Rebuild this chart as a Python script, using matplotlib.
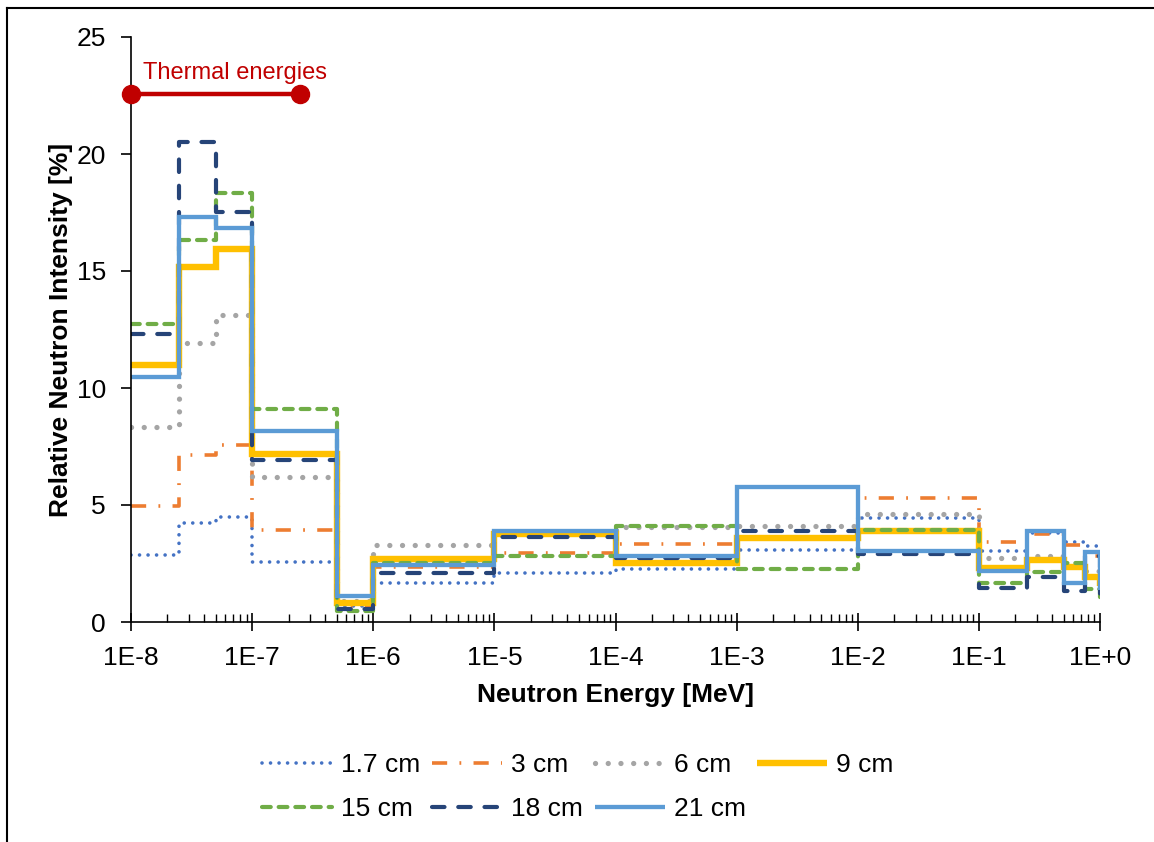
import matplotlib
matplotlib.use("Agg")
import matplotlib.pyplot as plt
from matplotlib.lines import Line2D
from matplotlib.ticker import FixedLocator, FixedFormatter, LogLocator, NullFormatter

plt.rcParams['font.family'] = ['Liberation Sans', 'DejaVu Sans']

# Energy bin edges [MeV]
edges = [1e-8, 2.5e-8, 5e-8, 1e-7, 5e-7, 1e-6, 1e-5, 1e-4, 1e-3, 1e-2,
         1e-1, 2.5e-1, 5e-1, 7.5e-1, 1.0]

# Relative intensity per bin [%]; the last entry is the value reached at 1 MeV
depth_1_7 = [2.85, 4.25, 4.5, 2.55, 0.7, 1.66, 2.1, 2.27, 3.08, 4.44, 3.05, 3.8, 3.44, 3.25, 3.2]
depth_3 = [4.95, 7.15, 7.58, 3.94, 0.66, 2.35, 2.94, 3.34, 3.6, 5.28, 3.4, 3.75, 3.27, 2.8, 2.7]
depth_6 = [8.35, 11.94, 13.14, 6.2, 0.9, 3.3, 3.8, 4.08, 4.11, 4.6, 2.75, 2.8, 2.4, 2.18, 2.2]
depth_9 = [11.0, 15.17, 15.95, 7.19, 0.83, 2.68, 3.77, 2.54, 3.58, 3.9, 2.3, 2.65, 2.37, 1.91, 1.55]
depth_15 = [12.74, 16.32, 18.35, 9.1, 0.48, 2.54, 2.82, 4.11, 2.28, 3.95, 1.66, 2.13, 2.54, 1.4, 0.87]
depth_18 = [12.3, 20.52, 17.54, 6.93, 0.56, 2.08, 3.65, 2.73, 3.9, 2.9, 1.47, 1.94, 1.34, 2.83, 1.08]
depth_21 = [10.49, 17.31, 16.85, 8.18, 1.11, 2.44, 3.9, 2.83, 5.77, 3.04, 2.2, 3.9, 1.65, 2.98, 1.35]

series_labels = ["1.7 cm", "3 cm", "6 cm", "9 cm", "15 cm", "18 cm", "21 cm"]

x_tick_values = [1e-8, 1e-7, 1e-6, 1e-5, 1e-4, 1e-3, 1e-2, 1e-1, 1e0]
x_tick_labels = ["1E-8", "1E-7", "1E-6", "1E-5", "1E-4", "1E-3", "1E-2", "1E-1", "1E+0"]
y_tick_values = [0, 5, 10, 15, 20, 25]

thermal_range = [1e-8, 2.5e-7]
thermal_level = 22.55

styles = [
    dict(color="#4472C4", lw=2.6, ls=(0, (0.01, 2.35)), dash_capstyle="round"),
    dict(color="#ED7D31", lw=2.6, ls=(0, (4.2, 3.4, 0.5, 3.4)), dash_capstyle="butt"),
    dict(color="#A5A5A5", lw=3.8, ls=(0, (0.01, 2.4)), dash_capstyle="round"),
    dict(color="#FFC000", lw=4.6, ls="-", solid_capstyle="butt"),
    dict(color="#70AD47", lw=3.0, ls=(0, (2.1, 1.9)), dash_capstyle="round"),
    dict(color="#264478", lw=3.0, ls=(0, (3.0, 3.3)), dash_capstyle="round"),
    dict(color="#5B9BD5", lw=3.1, ls="-", solid_capstyle="butt"),
]

data = [depth_1_7, depth_3, depth_6, depth_9, depth_15, depth_18, depth_21]

fig = plt.figure(figsize=(11.54, 8.42), dpi=100)
ax = fig.add_axes([131 / 1154, 1 - 622 / 842, (1100 - 131) / 1154, (622 - 37) / 842])

handles = []
for vals, lab, st in zip(data, series_labels, styles):
    st = dict(st)
    color = st.pop("color"); lw = st.pop("lw"); ls = st.pop("ls")
    line, = ax.step(edges, vals, where="post", color=color, lw=lw, linestyle=ls,
                    label=lab, solid_joinstyle="miter", **st)
    handles.append(line)

# Thermal energy range marker
ax.plot(thermal_range, [thermal_level, thermal_level], color="#C00000", lw=3.2,
        marker="o", markersize=13, clip_on=False, zorder=10)
ax.text(1.25e-8, 23.45, "Thermal energies", color="#C00000", fontsize=17,
        ha="left", va="center")

ax.set_xscale("log")
ax.set_xlim(1e-8, 1.0)
ax.set_ylim(0, 25)

ax.xaxis.set_major_locator(FixedLocator(x_tick_values))
ax.xaxis.set_major_formatter(FixedFormatter(x_tick_labels))
ax.xaxis.set_minor_locator(LogLocator(base=10, subs=range(2, 10), numticks=20))
ax.xaxis.set_minor_formatter(NullFormatter())
ax.yaxis.set_major_locator(FixedLocator(y_tick_values))

ax.tick_params(axis="x", which="major", direction="inout", length=13, width=1.2,
               labelsize=19, pad=11)
ax.tick_params(axis="x", which="minor", direction="in", length=6, width=1.0)
ax.tick_params(axis="y", which="major", direction="out", length=7, width=1.2,
               labelsize=19, pad=11)

for side in ("top", "right"):
    ax.spines[side].set_visible(False)
for side in ("left", "bottom"):
    ax.spines[side].set_linewidth(1.2)

ax.set_xlabel("Neutron Energy [MeV]", fontsize=19, fontweight="bold", labelpad=9)
ax.set_ylabel("Relative Neutron Intensity [%]", fontsize=19, fontweight="bold", labelpad=2.5)

# Row-wise legend order across four columns
order = [0, 4, 1, 5, 2, 6, 3]
leg = fig.legend(handles=[handles[i] for i in order], loc="upper left",
                 bbox_to_anchor=(262 / 1154, 1 - 753 / 842),
                 ncol=4, frameon=False, fontsize=19, handlelength=2.65,
                 handletextpad=0.34, columnspacing=0.45, labelspacing=0.75,
                 borderaxespad=0, borderpad=0)

# Outer frame lines
fig.add_artist(Line2D([7 / 1154, 1.0], [1 - 8 / 842, 1 - 8 / 842], color="black", lw=1.5,
                      transform=fig.transFigure))
fig.add_artist(Line2D([7 / 1154, 7 / 1154], [0.0, 1 - 8 / 842], color="black", lw=1.5,
                      transform=fig.transFigure))

fig.savefig("out.png", dpi=100)
